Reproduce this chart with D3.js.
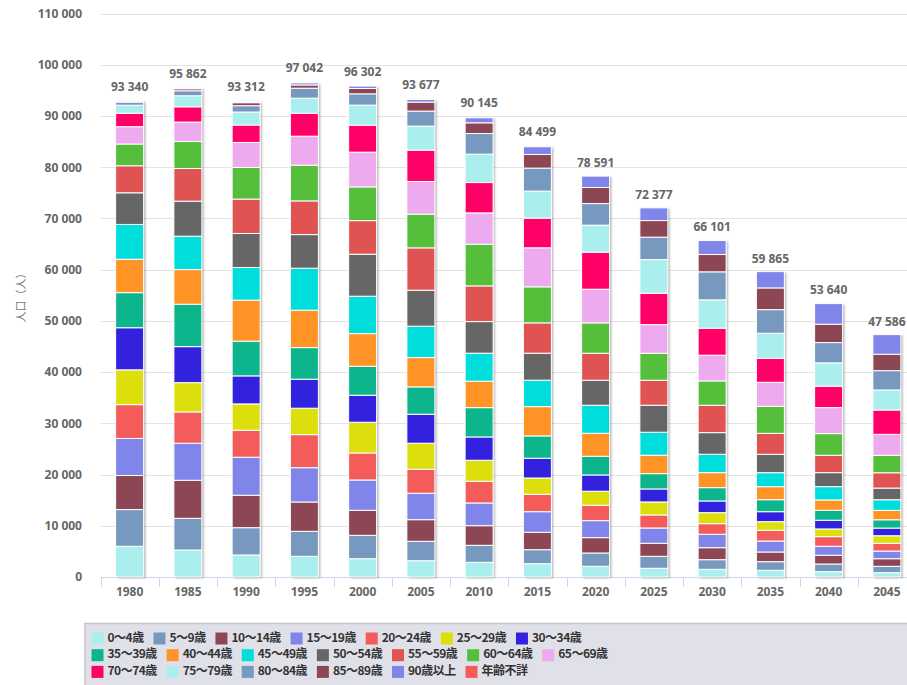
<!DOCTYPE html>
<html>
<head>
<meta charset="utf-8">
<script src="https://cdnjs.cloudflare.com/ajax/libs/d3/7.8.5/d3.min.js"></script>
<style>
    body { margin: 0; background: #fff; }
    svg { display: block; font-family: "Noto Sans CJK JP", "Noto Sans", sans-serif; }
</style>
</head>
<body>
<svg id="chart" width="907" height="685"></svg>
<script>
// categories
var years = ['1980', '1985', '1990', '1995', '2000', '2005', '2010',
    '2015', '2020', '2025', '2030', '2035', '2040', '2045'];

var ageGroups = ['0～4歳', '5～9歳', '10～14歳', '15～19歳', '20～24歳',
    '25～29歳', '30～34歳', '35～39歳', '40～44歳', '45～49歳', '50～54歳',
    '55～59歳', '60～64歳', '65～69歳', '70～74歳', '75～79歳', '80～84歳',
    '85～89歳', '90歳以上', '年齢不詳'];

// series values, one per year (persons)
var age0to4 = [6000, 5270, 4300, 4040, 3570, 3180, 2870, 2600, 2090, 1700, 1500, 1310, 1040, 840];
var age5to9 = [7160, 6190, 5330, 4880, 4570, 3790, 3320, 2730, 2600, 2340, 1880, 1680, 1500, 1250];
var age10to14 = [6650, 7420, 6330, 5720, 4880, 4220, 3830, 3400, 2990, 2540, 2340, 1890, 1700, 1480];
var age15to19 = [7240, 7230, 7420, 6700, 5920, 5160, 4430, 4020, 3320, 2990, 2620, 2150, 1760, 1500];
var age20to24 = [6600, 6110, 5270, 6450, 5270, 4690, 4240, 3400, 3010, 2540, 2070, 2090, 1880, 1500];
var age25to29 = [6790, 5720, 5140, 5160, 6000, 5080, 4100, 3180, 2730, 2540, 2150, 1680, 1500, 1480];
var age30to34 = [8220, 7030, 5470, 5660, 5270, 5660, 4550, 3850, 3180, 2540, 2280, 1950, 1700, 1500];
var age35to39 = [6850, 8280, 6780, 6170, 5660, 5330, 5720, 4360, 3650, 2990, 2600, 2340, 1950, 1620];
var age40to44 = [6520, 6760, 8010, 7300, 6370, 5720, 5160, 5720, 4490, 3590, 2930, 2540, 2010, 1840];
var age45to49 = [6790, 6520, 6370, 8200, 7300, 6130, 5470, 5160, 5470, 4490, 3590, 2730, 2600, 2070];
var age50to54 = [6180, 6840, 6640, 6560, 8200, 7030, 6170, 5270, 4880, 5270, 4220, 3590, 2730, 2280];
var age55to59 = [5280, 6370, 6720, 6580, 6560, 8260, 6970, 5920, 5270, 4880, 5350, 4100, 3400, 2990];
var age60to64 = [4240, 5270, 6170, 6970, 6580, 6580, 8140, 7030, 5920, 5270, 4750, 5270, 4220, 3400];
var age65to69 = [3390, 3790, 4880, 5660, 6780, 6370, 6110, 7620, 6580, 5590, 5020, 4690, 5080, 4100];
var age70to74 = [2620, 2990, 3400, 4490, 5270, 6130, 5920, 5800, 7230, 6130, 5270, 4690, 4180, 4750];
var age75to79 = [1570, 2150, 2540, 2930, 3910, 4690, 5550, 5270, 5270, 6560, 5530, 4880, 4550, 3910];
var age80to84 = [600, 980, 1230, 1950, 2210, 2930, 4020, 4490, 4220, 4380, 5470, 4610, 3960, 3770];
var age85to89 = [200, 390, 590, 640, 1040, 1760, 2090, 2660, 3130, 3240, 3380, 4240, 3590, 3200];
var age90plus = [50, 150, 200, 390, 470, 510, 980, 1500, 2230, 2480, 2730, 3180, 4020, 3830];
var ageUnknown = [0, 0, 0, 0, 0, 0, 0, 0, 0, 0, 0, 0, 0, 0];

// totals shown above the stacks
var totals = [93340, 95862, 93312, 97042, 96302, 93677, 90145, 84499, 78591,
    72377, 66101, 59865, 53640, 47586];

var yTicks = [0, 10000, 20000, 30000, 40000, 50000, 60000, 70000, 80000,
    90000, 100000, 110000];

var seriesValues = [age0to4, age5to9, age10to14, age15to19, age20to24,
    age25to29, age30to34, age35to39, age40to44, age45to49, age50to54,
    age55to59, age60to64, age65to69, age70to74, age75to79, age80to84,
    age85to89, age90plus, ageUnknown];

var colors = ['#aaeeee', '#7798bf', '#8d4654', '#8085e9', '#f45b5b',
    '#dddf0d', '#3322dd', '#0db58c', '#ff9326', '#00dddd', '#666666',
    '#df5353', '#55bf3b', '#eeaaee', '#ff0066', '#aaeeee', '#7798bf',
    '#8d4654', '#8085e9', '#f45b5b'];

// overall configuration
var plot = { left: 100.5, right: 916, top: 13.5, bottom: 577 },
    barWidth = 28;

var svg = d3.select('#chart');

function fmt(v) {
    return d3.format(',')(v).replace(/,/g, ' ');
}

// table for the stack layout
var rows = years.map(function (year, i) {
    var row = { year: year };
    ageGroups.forEach(function (key, k) {
        row[key] = seriesValues[k][i];
    });
    return row;
});

var stacked = d3.stack().keys(ageGroups)(rows);

var x = d3.scaleBand()
    .domain(years)
    .range([plot.left, plot.right]);

var y = d3.scaleLinear()
    .domain([0, 110000])
    .range([plot.bottom, plot.top]);

// shadow filter for the columns
var defs = svg.append('defs');
defs.append('filter')
    .attr('id', 'shadow')
    .attr('x', '-30%').attr('y', '-5%')
    .attr('width', '170%').attr('height', '110%')
    .append('feDropShadow')
    .attr('dx', 1.5).attr('dy', 1)
    .attr('stdDeviation', 1.2)
    .attr('flood-color', '#000')
    .attr('flood-opacity', 0.35);

// grid lines
svg.append('g')
    .selectAll('line')
    .data(yTicks.slice(1))
    .enter()
    .append('line')
    .attr('x1', plot.left)
    .attr('x2', 907)
    .attr('y1', function (d) { return Math.round(y(d)) + 0.5; })
    .attr('y2', function (d) { return Math.round(y(d)) + 0.5; })
    .attr('stroke', '#e3e3e3')
    .attr('stroke-width', 1);

// y axis labels
var yAxis = svg.append('g')
    .attr('transform', 'translate(82,0)')
    .call(d3.axisLeft(y).tickValues(yTicks).tickSize(0).tickPadding(0)
        .tickFormat(fmt));
yAxis.select('.domain').remove();
yAxis.selectAll('text')
    .attr('fill', '#666')
    .attr('font-size', '12px')
    .attr('font-weight', 'bold')
    .attr('font-family', '"Noto Sans", sans-serif');

// y axis title
svg.append('text')
    .attr('transform', 'translate(22,295) rotate(-90)')
    .attr('text-anchor', 'middle')
    .attr('dominant-baseline', 'middle')
    .attr('fill', '#777')
    .attr('font-size', '11px')
    .text('人口（人）');

// x axis
var xAxis = svg.append('g')
    .attr('transform', 'translate(0,' + plot.bottom + ')')
    .call(d3.axisBottom(x).tickSize(0).tickPadding(10));
xAxis.select('.domain')
    .attr('stroke', '#ccd6eb')
    .attr('d', 'M' + plot.left + ',0.5H907');
xAxis.selectAll('text')
    .attr('fill', '#666')
    .attr('font-size', '12px')
    .attr('font-weight', 'bold')
    .attr('font-family', '"Noto Sans", sans-serif');

// tick marks on category boundaries
xAxis.selectAll('line.bound')
    .data(years)
    .enter()
    .append('line')
    .attr('class', 'bound')
    .attr('x1', function (d) { return Math.round(x(d)) + 0.5; })
    .attr('x2', function (d) { return Math.round(x(d)) + 0.5; })
    .attr('y1', 0)
    .attr('y2', 10)
    .attr('stroke', '#ccd6eb');

// column shadows
var barX = function (d) {
    return x(d) + (x.bandwidth() - barWidth) / 2;
};
svg.append('g')
    .selectAll('rect')
    .data(rows)
    .enter()
    .append('rect')
    .attr('x', function (d) { return barX(d.year); })
    .attr('y', function (d, i) {
        return y(stacked[stacked.length - 1][i][1]);
    })
    .attr('width', barWidth)
    .attr('height', function (d, i) {
        return y(0) - y(stacked[stacked.length - 1][i][1]);
    })
    .attr('fill', '#fff')
    .attr('filter', 'url(#shadow)');

// stacked segments
var series = svg.append('g')
    .selectAll('g')
    .data(stacked)
    .enter()
    .append('g')
    .attr('fill', function (d, i) { return colors[i]; });

series.selectAll('rect')
    .data(function (d) { return d; })
    .enter()
    .append('rect')
    .attr('x', function (d) { return barX(d.data.year); })
    .attr('y', function (d) { return y(d[1]); })
    .attr('width', barWidth)
    .attr('height', function (d) { return Math.max(0, y(d[0]) - y(d[1])); })
    .attr('stroke', '#fff')
    .attr('stroke-width', 1);

// stack totals
svg.append('g')
    .selectAll('text')
    .data(totals)
    .enter()
    .append('text')
    .attr('x', function (d, i) { return x(years[i]) + x.bandwidth() / 2; })
    .attr('y', function (d) { return y(d) - 11; })
    .attr('text-anchor', 'middle')
    .attr('dominant-baseline', 'middle')
    .attr('fill', '#666')
    .attr('font-size', '12px')
    .attr('font-weight', 'bold')
    .attr('font-family', '"Noto Sans", sans-serif')
    .text(fmt);

// legend box
var legend = svg.append('g');
legend.append('rect')
    .attr('x', 85)
    .attr('y', 623.5)
    .attr('width', 840)
    .attr('height', 80)
    .attr('fill', '#e0e0e8')
    .attr('stroke', '#c4c4c4')
    .attr('stroke-width', 1.5);

// legend items flow in rows of seven
var perRow = 7,
    rowHeight = 16.7,
    itemGap = 9.8;
var cursor = 91.5;
ageGroups.forEach(function (name, i) {
    var row = Math.floor(i / perRow);
    if (i % perRow === 0) {
        cursor = 91.5;
    }
    var cy = 638.5 + row * rowHeight;
    var item = legend.append('g');
    item.append('rect')
        .attr('x', cursor)
        .attr('y', cy - 6)
        .attr('width', 12)
        .attr('height', 12)
        .attr('fill', colors[i]);
    var label = item.append('text')
        .attr('x', cursor + 16)
        .attr('y', cy)
        .attr('dominant-baseline', 'middle')
        .attr('fill', '#333')
        .attr('font-size', '12px')
        .attr('letter-spacing', '-0.5px')
        .attr('font-weight', 'bold')
        .text(name);
    cursor += 16 + label.node().getComputedTextLength() + itemGap;
});
</script>
</body>
</html>
